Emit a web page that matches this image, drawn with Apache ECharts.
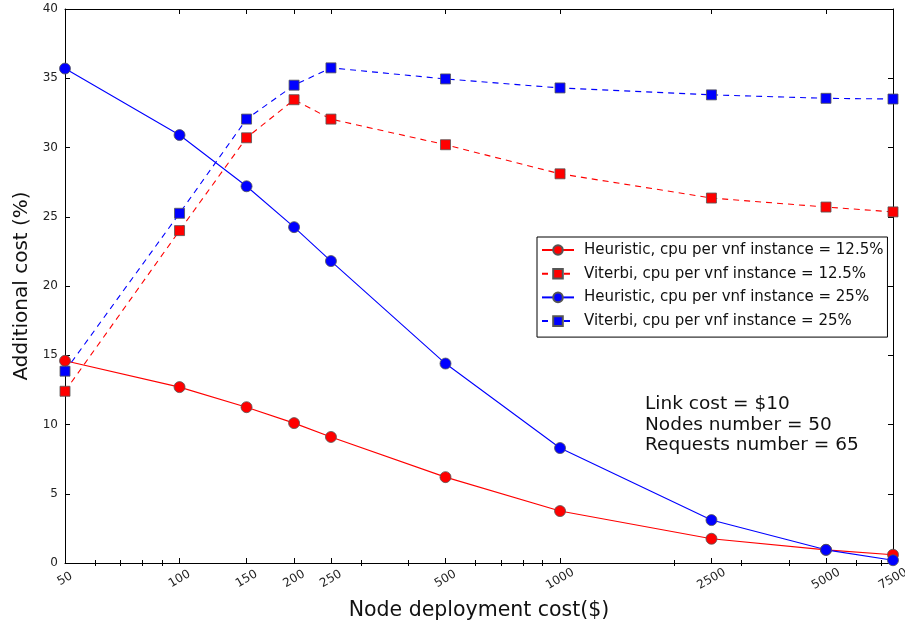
<!DOCTYPE html>
<html>
<head>
<meta charset="utf-8">
<script src="https://cdn.jsdelivr.net/npm/echarts@6/dist/echarts.min.js"></script>
<style>
  html, body { margin: 0; padding: 0; background: #fff; }
  #chart { width: 905px; height: 625px; }
</style>
</head>
<body>
<div id="chart"></div>
<script>
// node deployment cost ($), plotted on a log axis
const nodeCost = [50, 100, 150, 200, 250, 500, 1000, 2500, 5000, 7500]
const minorTicks = [60, 70, 80, 90, 300, 400, 600, 700, 800, 900, 2000, 3000, 4000, 6000, 7000]

const heuristic125 = [14.6, 12.7, 11.25, 10.1, 9.1, 6.2, 3.75, 1.75, 0.95, 0.6]
const viterbi125 = [12.4, 24.0, 30.7, 33.45, 32.05, 30.2, 28.1, 26.35, 25.7, 25.35]
const heuristic25 = [35.7, 30.9, 27.2, 24.25, 21.8, 14.4, 8.3, 3.1, 0.95, 0.2]
const viterbi25 = [13.85, 25.25, 32.05, 34.5, 35.75, 34.95, 34.3, 33.8, 33.55, 33.5]

const seriesNames = [
  'Heuristic, cpu per vnf instance = 12.5%',
  'Viterbi, cpu per vnf instance = 12.5%',
  'Heuristic, cpu per vnf instance = 25%',
  'Viterbi, cpu per vnf instance = 25%'
]
const infoLines = ['Link cost = $10', 'Nodes number = 50', 'Requests number = 65']

const font = 'DejaVu Sans'
const lg = (v) => Math.log10(v)
const xMin = lg(nodeCost[0])
const xMax = lg(nodeCost[nodeCost.length - 1])
const majorVals = nodeCost.map(lg)
const minorVals = minorTicks.map(lg)

const toPoints = (list) => list.map((y, i) => [lg(nodeCost[i]), y])

const makeSeries = (name, data, color, symbol, dashed) => ({
  type: 'line',
  name,
  data: toPoints(data),
  symbol,
  symbolSize: symbol === 'circle' ? 11 : 10,
  showSymbol: true,
  z: 3,
  lineStyle: { color, width: 1.1, type: dashed ? [6, 5] : 'solid' },
  itemStyle: { color, borderColor: '#555', borderWidth: 0.8 }
})

const frameX = (extra) => Object.assign({
  type: 'value',
  min: xMin,
  max: xMax,
  splitLine: { show: false },
  axisLine: { show: true, onZero: false, lineStyle: { color: '#000', width: 1 } }
}, extra)

const chart = echarts.init(document.getElementById('chart'))
chart.setOption({
  animation: false,
  textStyle: { fontFamily: font },
  grid: { left: 65, right: 12, top: 9, bottom: 62, containLabel: false, outerBoundsMode: 'none' },
  legend: {
    orient: 'vertical',
    left: 537,
    top: 237,
    itemWidth: 32,
    itemHeight: 12,
    itemGap: 8.7,
    padding: [5.5, 4, 8.5, 4],
    borderColor: '#000',
    borderWidth: 1,
    backgroundColor: '#fff',
    textStyle: { fontSize: 15, fontFamily: font, color: '#111', padding: [0, 0, 0, 5] },
    data: seriesNames
  },
  xAxis: [
    frameX({
      position: 'bottom',
      name: 'Node deployment cost($)',
      nameLocation: 'middle',
      nameGap: 37,
      nameTextStyle: { fontSize: 20.5, color: '#111', fontFamily: font },
      axisTick: { show: true, inside: true, length: 5, customValues: majorVals, lineStyle: { color: '#000' } },
      axisLabel: {
        show: true,
        customValues: majorVals,
        rotate: 30,
        align: 'center',
        verticalAlign: 'middle',
        fontSize: 12,
        color: '#222',
        margin: 16,
        formatter: (v) => String(Math.round(Math.pow(10, v)))
      }
    }),
    frameX({
      position: 'bottom',
      axisLine: { show: false },
      axisTick: { show: true, inside: true, length: 3, customValues: minorVals, lineStyle: { color: '#000' } },
      axisLabel: { show: false }
    }),
    frameX({
      position: 'top',
      axisTick: { show: true, inside: true, length: 5, customValues: majorVals, lineStyle: { color: '#000' } },
      axisLabel: { show: false }
    }),
    frameX({
      position: 'top',
      axisLine: { show: false },
      axisTick: { show: true, inside: true, length: 3, customValues: minorVals, lineStyle: { color: '#000' } },
      axisLabel: { show: false }
    })
  ],
  yAxis: [
    {
      type: 'value',
      min: 0,
      max: 40,
      interval: 5,
      position: 'left',
      name: 'Additional cost (%)',
      nameLocation: 'middle',
      nameGap: 21,
      nameTextStyle: { fontSize: 20, color: '#111', fontFamily: font },
      splitLine: { show: false },
      axisLine: { show: true, lineStyle: { color: '#000', width: 1 } },
      axisTick: { show: true, inside: true, length: 5, lineStyle: { color: '#000' } },
      axisLabel: { fontSize: 12, color: '#222', margin: 7 }
    },
    {
      type: 'value',
      min: 0,
      max: 40,
      interval: 5,
      position: 'right',
      splitLine: { show: false },
      axisLine: { show: true, lineStyle: { color: '#000', width: 1 } },
      axisTick: { show: true, inside: true, length: 5, lineStyle: { color: '#000' } },
      axisLabel: { show: false }
    }
  ],
  graphic: [
    {
      type: 'text',
      left: 645,
      top: 394,
      style: {
        text: infoLines.join('\n'),
        font: '18.5px "DejaVu Sans"',
        lineHeight: 20.5,
        fill: '#111'
      }
    }
  ],
  series: [
    makeSeries(seriesNames[0], heuristic125, '#ff0000', 'circle', false),
    makeSeries(seriesNames[1], viterbi125, '#ff0000', 'rect', true),
    makeSeries(seriesNames[2], heuristic25, '#0000ff', 'circle', false),
    makeSeries(seriesNames[3], viterbi25, '#0000ff', 'rect', true)
  ]
})
</script>
</body>
</html>
